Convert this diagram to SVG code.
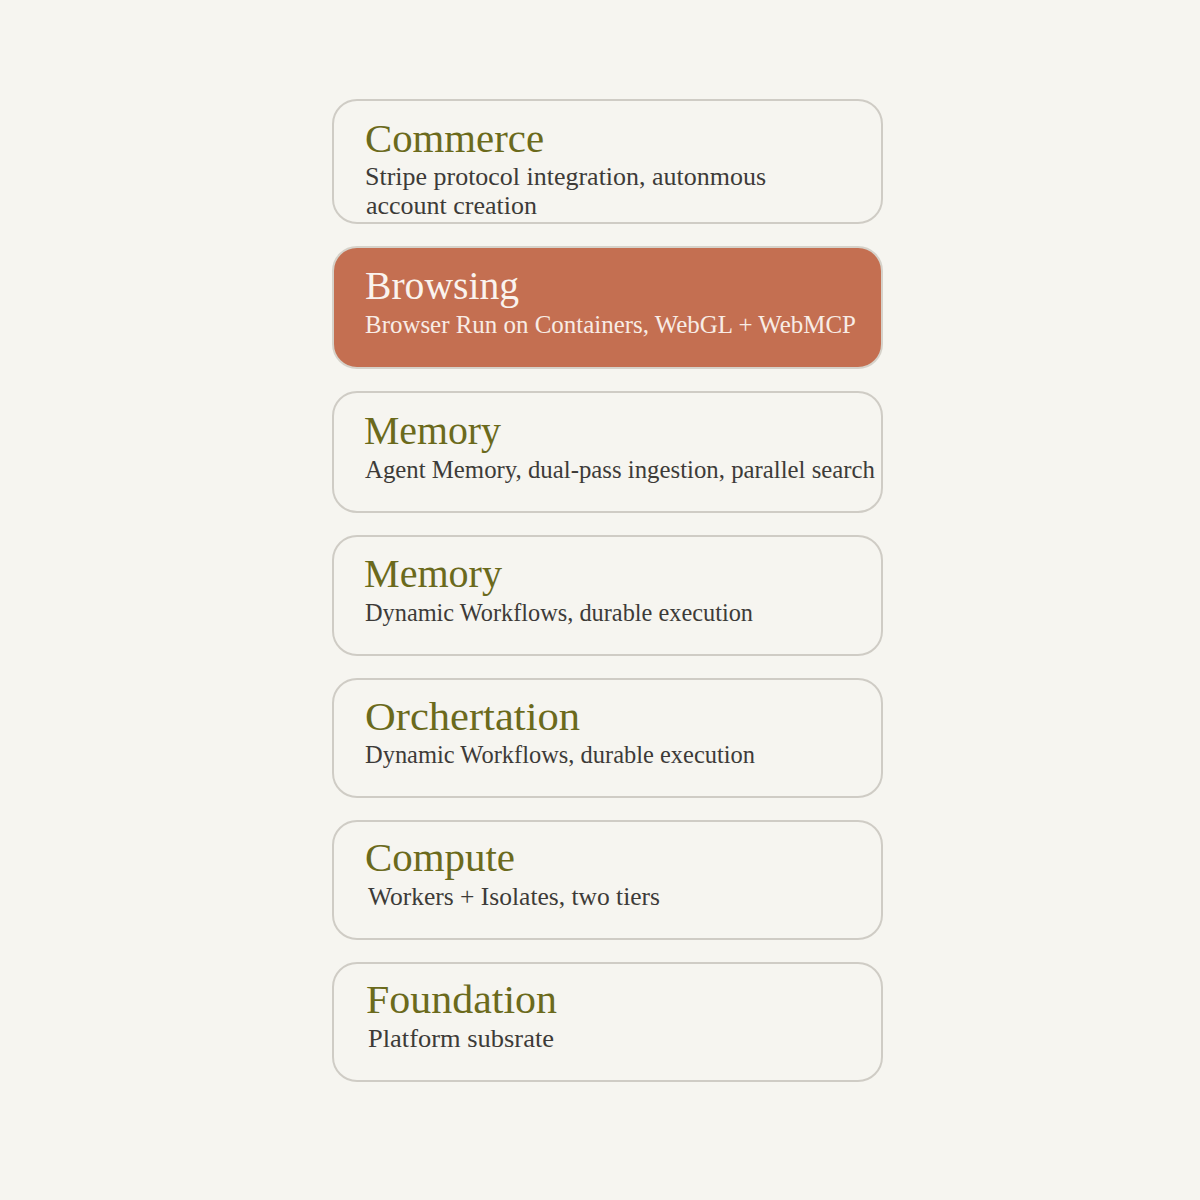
<svg xmlns="http://www.w3.org/2000/svg" width="1200" height="1200" viewBox="0 0 1200 1200">
<style>
.box{fill:#f6f5f0;stroke:#cfccc5;stroke-width:2}
.hl{fill:#c46f51;stroke:#d6d2ca;stroke-width:2}
.t{font-family:"Liberation Serif",serif;font-size:41px;fill:#6b6a1c}
.s{font-family:"Liberation Serif",serif;font-size:24.5px;fill:#3d3b38}
.th{fill:#faf3ee}
.sh{fill:#f8ece5}
</style>
<rect width="1200" height="1200" fill="#f6f5f0"/>
<g id="commerce"><rect class="box" x="333" y="100" width="549" height="123" rx="24"/>
<text class="t" x="365" y="152" textLength="179" lengthAdjust="spacingAndGlyphs">Commerce</text>
<text class="s" x="365" y="185" textLength="401" lengthAdjust="spacingAndGlyphs">Stripe protocol integration, autonmous</text>
<text class="s" x="366" y="214" textLength="171" lengthAdjust="spacingAndGlyphs">account creation</text></g>
<g id="browsing"><rect class="hl" x="333" y="247" width="549" height="121" rx="24"/>
<text class="t th" x="365" y="299" textLength="154" lengthAdjust="spacingAndGlyphs">Browsing</text>
<text class="s sh" x="365" y="333" textLength="491" lengthAdjust="spacingAndGlyphs">Browser Run on Containers, WebGL + WebMCP</text></g>
<g id="memory1"><rect class="box" x="333" y="392" width="549" height="120" rx="24"/>
<text class="t" x="364" y="444" textLength="137" lengthAdjust="spacingAndGlyphs">Memory</text>
<text class="s" x="365" y="478" textLength="510" lengthAdjust="spacingAndGlyphs">Agent Memory, dual-pass ingestion, parallel search</text></g>
<g id="memory2"><rect class="box" x="333" y="536" width="549" height="119" rx="24"/>
<text class="t" x="364" y="587" textLength="138" lengthAdjust="spacingAndGlyphs">Memory</text>
<text class="s" x="365" y="621" textLength="388" lengthAdjust="spacingAndGlyphs">Dynamic Workflows, durable execution</text></g>
<g id="orchertation"><rect class="box" x="333" y="679" width="549" height="118" rx="24"/>
<text class="t" x="365" y="730" textLength="215" lengthAdjust="spacingAndGlyphs">Orchertation</text>
<text class="s" x="365" y="763" textLength="390" lengthAdjust="spacingAndGlyphs">Dynamic Workflows, durable execution</text></g>
<g id="compute"><rect class="box" x="333" y="821" width="549" height="118" rx="24"/>
<text class="t" x="365" y="871" textLength="150" lengthAdjust="spacingAndGlyphs">Compute</text>
<text class="s" x="368" y="905" textLength="292" lengthAdjust="spacingAndGlyphs">Workers + Isolates, two tiers</text></g>
<g id="foundation"><rect class="box" x="333" y="963" width="549" height="118" rx="24"/>
<text class="t" x="366" y="1013" textLength="191" lengthAdjust="spacingAndGlyphs">Foundation</text>
<text class="s" x="368" y="1047" textLength="186" lengthAdjust="spacingAndGlyphs">Platform subsrate</text></g>
<g id="connectors"/>
</svg>
